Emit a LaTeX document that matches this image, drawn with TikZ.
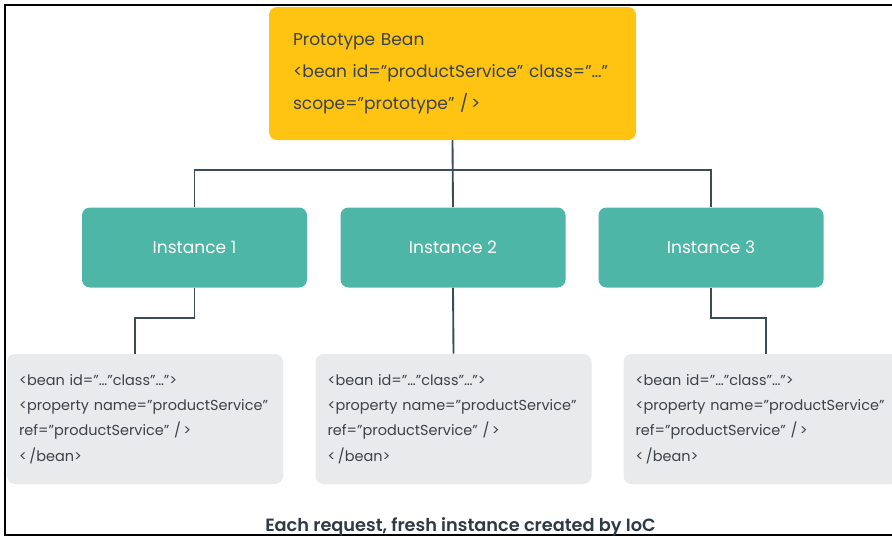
\documentclass[tikz,border=0pt]{standalone}
\usepackage{fontspec}
\setmainfont{Poppins}
\newfontfamily\capfont{Poppins SemiBold}
\usepackage{tikz}
\usetikzlibrary{positioning, calc}

\definecolor{beanyellow}{HTML}{FFC312}
\definecolor{instteal}{HTML}{4DB6A6}
\definecolor{xmlgray}{HTML}{E9EAEC}
\definecolor{wiregray}{HTML}{3D4A5A}
\definecolor{inktext}{HTML}{3C4249}
\definecolor{capink}{HTML}{2E3A46}

\begin{document}
\begin{tikzpicture}[x=0.75pt, y=-0.75pt,
  proto/.style={fill=beanyellow, rounded corners=6pt, text=inktext, font=\fontsize{12.8}{24}\selectfont,
    text width=239.25pt, align=left, inner xsep=18pt, minimum height=99.75pt},
  inst/.style={fill=instteal, rounded corners=6pt, text=white, font=\fontsize{12.8}{15}\selectfont,
    minimum width=168.75pt, minimum height=60pt},
  xml/.style={fill=xmlgray, rounded corners=6pt, text=inktext, font=\fontsize{10.85}{19}\selectfont,
    text width=189pt, align=left, inner xsep=9pt, minimum height=97.5pt},
  wire/.style={draw=wiregray, line width=1.4pt}]
  \useasboundingbox (0,0) rectangle (892,536);
  \fill[white] (0,0) rectangle (892,536);
  \draw[line width=2pt] (892,5) -- (5,5) -- (5,535) -- (892,535);

  \node[proto] (bean) at (452.5,73.5)
    {Prototype Bean\\ <bean id=”productService” class=”…”\\ scope=”prototype” /\,>};
  \node[inst] (i1) at (194.5,247.5) {Instance 1};
  \node[inst] (i2) at (453,247.5) {Instance 2};
  \node[inst] (i3) at (711,247.5) {Instance 3};
  \node[xml] (g1) at (145,419)
    {<bean id=”…”class”…”>\\ <property name=”productService”\\ ref=”productService” /\,>\\ <\,/bean>};
  \node[xml] (g2) at (453.5,419)
    {<bean id=”…”class”…”>\\ <property name=”productService”\\ ref=”productService” /\,>\\ <\,/bean>};
  \node[xml] (g3) at (761.5,419)
    {<bean id=”…”class”…”>\\ <property name=”productService”\\ ref=”productService” /\,>\\ <\,/bean>};

  \draw[wire] (bean.south) -- (i2.north);
  \draw[wire] (bean.south) -- ++(0,30) -| (i1.north);
  \draw[wire] (bean.south) -- ++(0,30) -| (i3.north);
  \draw[wire] (i1.south) -- ++(0,30) -| ($(g1.north)+(-10,0)$);
  \draw[wire] (i2.south) -- (g2.north);
  \draw[wire] (i3.south) -- ++(0,30) -| ($(g3.north)+(4.5,0)$);

  \node[text=capink, font=\capfont\fontsize{13.3}{15}\selectfont] (cap) at (460.5,526.5)
    {Each request, fresh instance created by IoC};
\end{tikzpicture}
\end{document}
